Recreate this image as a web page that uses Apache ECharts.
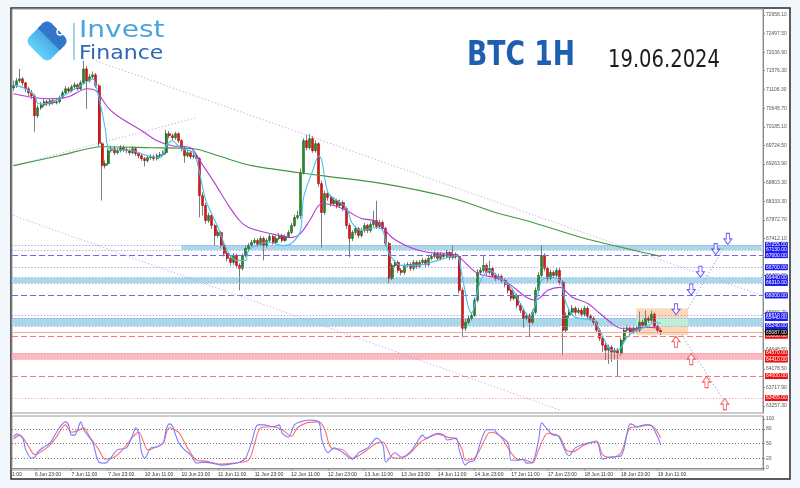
<!DOCTYPE html>
<html><head><meta charset="utf-8">
<script src="https://cdn.jsdelivr.net/npm/echarts@6/dist/echarts.min.js"></script>
<style>html,body{margin:0;padding:0;background:#f2f7fb;}#c{width:800px;height:488px;}</style>
</head><body><div id="c"></div>
<script>
// ---------- categories (hourly bars, weekends skipped) ----------
const sessions = [['6 Jun',16,23],['7 Jun',0,23],['10 Jun',0,23],['11 Jun',0,23],['12 Jun',0,23],['13 Jun',0,23],['14 Jun',0,23],['17 Jun',0,23],['18 Jun',0,23],['19 Jun',0,23],['20 Jun',0,21]];
const xTickLabels = ['6 Jun 23:00','7 Jun 11:00','7 Jun 23:00','10 Jun 11:00','10 Jun 23:00','11 Jun 11:00','11 Jun 23:00','12 Jun 11:00','12 Jun 23:00','13 Jun 11:00','13 Jun 23:00','14 Jun 11:00','14 Jun 23:00','17 Jun 11:00','17 Jun 23:00','18 Jun 11:00','18 Jun 23:00','19 Jun 11:00'];
const priceTicks = [72958.10,72497.50,72036.90,71576.30,71106.30,70645.70,70185.10,69724.50,69263.90,68803.30,68333.30,67872.70,67412.10,66951.50,66490.90,66030.30,65569.70,65109.10,64648.50,64178.50,63717.90,63257.30];
const stochTicks = [0,20,50,80,100];
const stochLevels = [80,50,20];

// ---------- candles ----------
const firstOpen = 71150;
const closes = [
71201,71325,71374,71275,71127,71028,70953,70458,70656,70730,
70805,70755,70830,70780,70805,70904,71028,71127,71077,71176,
71225,71127,71275,71621,71325,71424,71473,71201,69765,69221,
69270,69592,69641,69542,69592,69666,69617,69592,69542,69641,
69518,69468,69394,69345,69419,69444,69394,69468,69493,69542,
70013,69963,69914,70013,69840,69641,69468,69542,69444,69468,
69394,68478,68231,67860,67983,67736,67488,67562,67241,67043,
66919,66820,66993,66746,66672,66993,67166,67241,67315,67365,
67265,67414,67241,67365,67463,67315,67414,67488,67365,67463,
67562,67736,67934,67983,69047,69840,69666,69889,69592,69765,
68775,68057,68528,68429,68280,68355,68231,68305,68157,67736,
67414,67562,67661,67488,67612,67736,67612,67760,67860,67711,
67810,67661,67290,66424,66746,66820,66622,66572,66746,66770,
66672,66820,66721,66820,66870,66770,66919,66968,67043,66919,
67018,66968,67067,66944,67018,66968,66127,65186,65335,65434,
65508,65880,66572,66622,66746,66572,66672,66498,66424,66473,
66375,66276,66127,65929,66003,65756,65632,65434,65508,65335,
65582,66127,66498,66993,66672,66424,66572,66498,66622,66325,
65137,65508,65582,65681,65582,65632,65533,65681,65483,65434,
65335,65137,64939,64766,64642,64716,64592,64642,64568,64890,
65137,65186,65087,65186,65137,65335,65261,65434,65385,65533,
65236,65137,65087];
const highs = [
71330,71400,71620,71420,71300,71180,71100,71000,70720,70800,
70870,70860,70900,70880,70880,70960,71080,71200,71180,71230,
71290,71260,71330,71820,71700,71500,71560,71520,71250,69800,
69350,69650,69720,69700,69660,69730,69720,69680,69640,69700,
69680,69560,69520,69440,69480,69500,69490,69520,69560,69600,
70110,70080,70020,70060,70050,69880,69700,69600,69590,69530,
69520,69430,68560,68300,68050,68030,67780,67620,67600,67300,
67100,66980,67050,67040,66800,67040,67230,67300,67380,67430,
67420,67480,67460,67420,67530,67500,67480,67550,67530,67520,
67620,67800,68000,68100,69150,69900,69990,70010,69950,69850,
69800,68850,68600,68600,68500,68430,68400,68380,68360,68200,
67800,67620,67720,67700,67680,67800,67780,67830,68100,68350,
67880,67860,67700,67330,66800,66880,66870,66680,66800,66830,
66820,66880,66870,66880,66930,66920,66980,67030,67100,67080,
67080,67060,67130,67100,67240,67070,67010,66200,65420,65500,
65580,65950,66650,66700,66990,66800,66860,66720,66560,66540,
66520,66420,66320,66170,66080,66050,65800,65680,65570,65560,
65650,66200,66580,67240,67050,66720,66640,66620,66690,66680,
66380,65580,65660,65760,65730,65700,65690,65740,65730,65540,
65480,65380,65200,64990,64820,64780,64770,64700,64700,64950,
65200,65260,65230,65250,65240,65600,65400,65630,65480,65620,
65580,65280,65160];
const lows = [
71080,71150,71280,71200,71050,70950,70870,70060,70400,70600,
70680,70700,70700,70730,70740,70760,70880,70990,71020,71040,
71130,71080,71100,71250,70630,71280,71380,71150,69700,68355,
69150,69220,69540,69480,69500,69550,69560,69530,69480,69500,
69460,69400,69340,69200,69300,69370,69340,69350,69420,69450,
69500,69900,69850,69860,69780,69580,69290,69420,69380,69390,
69340,67940,67980,67780,67800,67650,67240,67430,67180,66970,
66850,66740,66760,66670,66130,66620,66940,67100,67200,67270,
67200,67220,66870,67190,67320,67260,67270,67370,67310,67320,
67420,67520,67690,67880,67900,69000,69600,69620,69540,69540,
68700,67190,68000,68350,68200,68220,68160,68170,68090,67650,
66950,67350,67500,67420,67440,67560,67550,67560,67700,67650,
67650,67600,67220,66300,66380,66690,66560,66500,66520,66690,
66610,66620,66660,66670,66770,66700,66720,66870,66920,66860,
66870,66900,66920,66880,66890,66900,66050,64960,65120,65280,
65380,65460,65830,66500,66560,66500,66520,66440,66360,66380,
66300,66200,66050,65860,65880,65680,65560,65200,65380,64990,
65280,65530,66060,66440,66600,66350,66380,66430,66440,66260,
64520,65080,65440,65520,65520,65540,65470,65480,65420,65370,
65270,65070,64870,64600,64400,64300,64350,64400,63980,64500,
64830,65080,65020,65040,65080,65090,65200,65210,65320,65330,
65180,65080,65020];

// ---------- moving averages ([bar, price]) ----------
const maFast = [[0,71225],[4,71127],[7,70953],[8,70755],[12,70780],[18,71028],[23,71250],[26,71374],[27,71201],[28,70904],[30,70161],[31,69666],[33,69617],[39,69592],[44,69468],[48,69419],[50,69716],[52,69840],[55,69641],[59,69542],[61,69023],[63,68355],[67,67686],[70,67117],[73,66870],[76,66870],[77,67117],[81,67290],[84,67315],[88,67241],[91,67290],[94,67612],[95,68429],[98,69097],[100,69468],[101,69345],[103,68553],[106,68355],[109,68181],[111,67785],[114,67612],[119,67686],[121,67612],[123,67043],[127,66746],[132,66746],[139,66870],[145,66993],[147,66449],[149,65706],[150,65558],[153,66375],[156,66622],[159,66449],[163,66201],[166,65805],[169,65459],[171,65805],[173,66375],[175,66449],[179,66375],[181,65805],[184,65459],[190,65385],[192,65137],[196,64642],[198,64642],[201,64963],[204,65137],[207,65211],[210,65335],[212,65310]];
const maSlow = [[0,71003],[7,70904],[12,70879],[18,70929],[24,71127],[27,71077],[31,70656],[35,70409],[42,70087],[47,69840],[52,69716],[58,69666],[61,69345],[66,68775],[70,68280],[74,67860],[77,67686],[84,67538],[91,67439],[94,67538],[97,67860],[101,68280],[105,68231],[109,68107],[114,67909],[118,67860],[120,67785],[124,67439],[130,67191],[136,67067],[143,67043],[146,66944],[152,66548],[159,66424],[163,66251],[168,65954],[171,65880],[175,66127],[179,66201],[183,65954],[188,65805],[192,65558],[196,65310],[199,65186],[203,65186],[207,65211],[212,65186]];
const maLong = [[0,69221],[15,69468],[29,69691],[45,69666],[59,69641],[67,69468],[78,69221],[101,68973],[121,68775],[143,68429],[159,68033],[168,67860],[186,67439],[212,66969]];

// ---------- stochastic ----------
const stochK = [[0,63],[1,69],[3,61],[4,37],[6,20],[7,22],[8,33],[10,43],[12,51],[13,61],[15,82],[17,94],[18,88],[19,67],[20,67],[21,78],[22,94],[23,78],[25,61],[26,51],[28,12],[30,10],[32,22],[34,37],[37,41],[39,67],[40,82],[41,71],[42,31],[43,20],[45,41],[47,43],[49,51],[50,78],[51,90],[52,86],[54,53],[56,37],[58,27],[60,10],[62,12],[65,10],[68,6],[71,8],[74,12],[76,20],[78,53],[80,88],[82,88],[85,84],[87,88],[88,71],[90,63],[92,88],[94,94],[97,98],[100,94],[101,57],[103,31],[105,41],[108,31],[111,18],[113,31],[116,41],[119,61],[121,47],[122,12],[125,31],[127,22],[130,33],[132,51],[134,67],[135,61],[139,71],[141,67],[142,57],[145,61],[146,37],[148,6],[149,12],[151,16],[153,53],[155,78],[157,78],[159,67],[162,51],[163,16],[165,16],[167,18],[168,10],[170,12],[172,57],[173,92],[175,78],[177,67],[178,67],[181,31],[182,25],[184,41],[188,51],[191,53],[193,18],[195,22],[199,25],[202,90],[203,88],[204,84],[207,88],[209,86],[211,63],[212,47]];
const stochD = [[0,59],[2,67],[5,43],[7,27],[9,33],[12,47],[14,63],[17,88],[19,73],[21,76],[23,82],[25,63],[28,37],[30,18],[33,22],[36,39],[39,63],[41,73],[44,37],[46,41],[49,51],[51,82],[54,73],[57,41],[60,16],[63,14],[68,8],[72,10],[77,16],[79,51],[81,82],[85,84],[88,78],[91,65],[93,82],[96,92],[100,94],[102,78],[104,41],[108,37],[111,20],[115,33],[119,51],[121,53],[124,22],[127,20],[130,31],[133,51],[135,59],[139,69],[142,63],[145,59],[147,37],[148,16],[151,20],[154,53],[156,73],[158,71],[160,61],[163,31],[165,18],[168,16],[170,10],[172,37],[175,71],[177,69],[179,63],[181,37],[183,33],[187,47],[191,55],[193,27],[196,22],[199,31],[202,82],[205,84],[208,88],[210,82],[212,61]];

// ---------- levels / zones / drawings ----------
const resistanceLevels = [67255,67130,67000,66700,66440,66310,66000,65510,65440,65240];
const supportLevels = [65000,64570,64410,64000,63455];
const resistanceZones = [[67255,67130],[66440,66310],[65440,65240]];
const resistanceZoneStart = [55,0,0];
const supportZones = [[64570,64410]];
const currentPrice = 65090;
const tradeBox = [204,221,65680,65010];
const channelLines = [[[27,71820],[245,66003]],[[0,67983],[179,63157]],[[0,69221],[60,70409]]];
const projectionLines = [[[221,65680],[234,67365]],[[219,65013],[233,63355]]];
const buyTargets = [[217,65510],[222,66000],[225,66440],[230,67000],[234,67255]];
const sellTargets = [[217,65000],[222,64570],[227,64000],[233,63455]];

// ---------- build ----------
const categories = [];
sessions.forEach(([d,h0,h1]) => { for (let h=h0; h<=h1; h++) categories.push(d+' '+String(h).padStart(2,'0')+':00'); });
const tickSet = new Set(xTickLabels);
const tickFn = (i, v) => tickSet.has(v);
const opens = [firstOpen].concat(closes.slice(0,-1));
const wickData = closes.map((c,i)=>[opens[i], c, lows[i], highs[i]]);
const bodyData = closes.map((c,i)=>[opens[i], c, Math.min(opens[i],c), Math.max(opens[i],c)]);
const pts = arr => arr.map(p => [categories[p[0]], p[1]]);
const FONT = '"Liberation Sans", Arial, sans-serif';
const NARROW = '"Liberation Sans Narrow", "DejaVu Sans Condensed", sans-serif';

const lblBase = {show:true, position:'end', distance:2, fontSize:5, fontFamily:FONT, color:'#fff', padding:[1,1,0,1], formatter: p => Number(p.value).toFixed(2)};
const levelLines = [];
resistanceLevels.forEach(v => levelLines.push({yAxis:v,
  lineStyle:{color: v%1000===0 ? '#6b6bf0' : '#9c9cf5', type: v%1000===0 ? [6,3] : [1.2,2], width:1},
  label:Object.assign({}, lblBase, {backgroundColor:'#1c1cf0'})}));
supportLevels.forEach(v => levelLines.push({yAxis:v,
  lineStyle:{color: v%1000===0 ? '#f07a7a' : '#f4a0a0', type: v%1000===0 ? [6,3] : [1.2,2], width:1},
  label:Object.assign({}, lblBase, {backgroundColor:'#ee1111'})}));
levelLines.push({yAxis:currentPrice, lineStyle:{color:'#f3a6a6', type:'solid', width:1},
  label:Object.assign({}, lblBase, {backgroundColor:'#000', formatter: () => closes[closes.length-1].toFixed(2)})});

const zones = [];
resistanceZones.forEach((z,k) => {
  if (resistanceZoneStart[k] > 0) zones.push([{yAxis:z[0], xAxis:categories[resistanceZoneStart[k]], itemStyle:{color:'#a9d9e8'}}, {yAxis:z[1], xAxis:categories[categories.length-1]}]);
  else zones.push([{yAxis:z[0], itemStyle:{color:'#a9d9e8'}}, {yAxis:z[1]}]);
});
supportZones.forEach(z => zones.push([{yAxis:z[0], itemStyle:{color:'#fbb8bf'}}, {yAxis:z[1]}]));
zones.push([{xAxis:categories[tradeBox[0]], yAxis:tradeBox[2], itemStyle:{color:'rgba(250,196,140,0.62)'}}, {xAxis:categories[tradeBox[1]], yAxis:tradeBox[3]}]);
const ov = resistanceZones[2];
zones.push([{xAxis:categories[tradeBox[0]], yAxis:ov[0], itemStyle:{color:'#bdeed8'}}, {xAxis:categories[tradeBox[1]], yAxis:ov[1]}]);

const segs = (arr, color) => arr.map(s => [{coord:[categories[s[0][0]], s[0][1]], lineStyle:{color, type:[1.2,2.2], width:1}}, {coord:[categories[s[1][0]], s[1][1]]}]);

const downArrow = 'path://M3,0 L7,0 L7,6 L10,6 L5,12 L0,6 L3,6 Z';
const upArrow = 'path://M5,0 L10,6 L7,6 L7,12 L3,12 L3,6 L0,6 Z';

const chart = echarts.init(document.getElementById('c'), null, {renderer:'canvas'});
chart.setOption({
  animation:false,
  backgroundColor:'transparent',
  graphic:[
    {type:'rect', z:-100, silent:true, shape:{x:11, y:8, width:779, height:471}, style:{fill:'#fff', stroke:'#2a2a2a', lineWidth:1.5}},
    {type:'rect', z:100, x:47, y:41, rotation:Math.PI/4, shape:{x:-15.5, y:-15.5, width:31, height:31, r:6},
      style:{fill:{type:'linear', x:0, y:0, x2:1, y2:0, colorStops:[{offset:0,color:'#62d2f8'},{offset:1,color:'#3b8fdc'}]}}},
    {type:'rect', z:101, x:47, y:41, rotation:Math.PI/4, shape:{x:2.5, y:-15.5, width:13, height:31, r:[0,6,6,0]},
      style:{fill:'#2f72c4', opacity:0.9}},
    {type:'circle', z:102, shape:{cx:60, cy:32, r:3}, style:{fill:'none', stroke:'#fff', lineWidth:1.4}},
    {type:'line', z:100, shape:{x1:74, y1:23, x2:74, y2:60}, style:{stroke:'#4aa8e0', lineWidth:1}},
    {type:'text', z:100, x:79, y:31.5, scaleX:1.22, style:{text:'Invest', fontSize:23, fontFamily:'"DejaVu Sans", sans-serif', fill:'#47a6df', verticalAlign:'middle'}},
    {type:'text', z:100, x:79, y:54, scaleX:1.16, style:{text:'Finance', fontSize:19, fontFamily:'"DejaVu Sans", sans-serif', fill:'#2d69b2', verticalAlign:'middle'}},
    {type:'text', z:100, x:467, y:56.5, scaleX:0.87, style:{text:'BTC 1H', fontSize:34, fontWeight:'bold', fontFamily:NARROW, fill:'#1f5fb0', verticalAlign:'middle'}},
    {type:'text', z:100, x:608, y:60, scaleX:0.87, style:{text:'19.06.2024', fontSize:25, fontFamily:NARROW, fill:'#1c1c1c', verticalAlign:'middle'}},
    {type:'text', z:100, x:12, y:475, style:{text:'1:00', fontSize:5, fontFamily:FONT, fill:'#333', verticalAlign:'middle'}}
  ],
  grid:[
    {left:12, right:37, top:9, bottom:75, show:true, borderColor:'#9a9a9a', borderWidth:1, backgroundColor:'transparent'},
    {left:12, right:37, top:416, bottom:18, show:true, borderColor:'#9a9a9a', borderWidth:1, backgroundColor:'transparent'}
  ],
  xAxis:[
    {type:'category', gridIndex:0, data:categories, boundaryGap:true, axisLine:{show:false}, axisTick:{show:false}, axisLabel:{show:false}, splitLine:{show:false}},
    {type:'category', gridIndex:1, data:categories, boundaryGap:true, axisLine:{show:true, lineStyle:{color:'#8a8a8a'}},
      axisTick:{show:true, interval:tickFn, alignWithLabel:true, length:2, lineStyle:{color:'#8a8a8a'}},
      axisLabel:{interval:tickFn, align:'left', fontSize:5, fontFamily:FONT, color:'#333', margin:2}, splitLine:{show:false}}
  ],
  yAxis:[
    {type:'value', gridIndex:0, position:'right', min:63084, max:73107, splitLine:{show:false},
      axisLine:{show:true, lineStyle:{color:'#8a8a8a'}},
      axisTick:{show:true, customValues:priceTicks, length:2, lineStyle:{color:'#8a8a8a'}},
      axisLabel:{customValues:priceTicks, formatter:v=>Number(v).toFixed(2), fontSize:5, fontFamily:FONT, color:'#555', margin:3}},
    {type:'value', gridIndex:1, position:'right', min:-4, max:106, splitLine:{show:false},
      axisLine:{show:true, lineStyle:{color:'#8a8a8a'}},
      axisTick:{show:true, customValues:stochTicks, length:2, lineStyle:{color:'#8a8a8a'}},
      axisLabel:{customValues:stochTicks, formatter:v=>String(v), fontSize:5, fontFamily:FONT, color:'#555', margin:3}}
  ],
  series:[
    {name:'zones', type:'line', xAxisIndex:0, yAxisIndex:0, data:[], z:1, silent:true,
      markArea:{silent:true, data:zones},
      markLine:{silent:true, symbol:['none','none'], data:levelLines}},
    {name:'drawings', type:'line', xAxisIndex:0, yAxisIndex:0, data:[], z:1, silent:true,
      markLine:{silent:true, symbol:['none','none'], label:{show:false},
        data: segs(channelLines, '#c6a2e6').concat(segs(projectionLines, '#8f8fd0'))}},
    {name:'wick', type:'candlestick', xAxisIndex:0, yAxisIndex:0, data:wickData, barWidth:1, z:3, silent:true,
      itemStyle:{color:'#7d7d7d', color0:'#7d7d7d', borderColor:'#7d7d7d', borderColor0:'#7d7d7d', borderWidth:1}},
    {name:'body', type:'candlestick', xAxisIndex:0, yAxisIndex:0, data:bodyData, barWidth:2.5, z:4, silent:true,
      itemStyle:{color:'#228a22', color0:'#e01515', borderColor:'#125412', borderColor0:'#9a0000', borderWidth:0.5}},
    {name:'MA long', type:'line', xAxisIndex:0, yAxisIndex:0, data:pts(maLong), smooth:0.3, showSymbol:false, z:5,
      lineStyle:{color:'#3c9a3c', width:1.1}},
    {name:'MA slow', type:'line', xAxisIndex:0, yAxisIndex:0, data:pts(maSlow), smooth:0.3, showSymbol:false, z:5,
      lineStyle:{color:'#b43ad8', width:1.1}},
    {name:'MA fast', type:'line', xAxisIndex:0, yAxisIndex:0, data:pts(maFast), smooth:0.3, showSymbol:false, z:6,
      lineStyle:{color:'#45c0f2', width:1.1}},
    {name:'buy', type:'scatter', xAxisIndex:0, yAxisIndex:0, data:pts(buyTargets), symbol:downArrow, symbolSize:[8,11], symbolOffset:[0,-6], z:7,
      itemStyle:{color:'#fff', borderColor:'#3b3bf5', borderWidth:1}},
    {name:'sell', type:'scatter', xAxisIndex:0, yAxisIndex:0, data:pts(sellTargets), symbol:upArrow, symbolSize:[8,11], symbolOffset:[0,6], z:7,
      itemStyle:{color:'#fff', borderColor:'#f53b3b', borderWidth:1}},
    {name:'%K', type:'line', xAxisIndex:1, yAxisIndex:1, data:pts(stochK), smooth:0.3, showSymbol:false, z:5,
      lineStyle:{color:'#7b7bff', width:1.1},
      markLine:{silent:true, symbol:['none','none'], label:{show:false}, lineStyle:{color:'#777', type:[1,2], width:1},
        data: stochLevels.map(v => ({yAxis:v}))}},
    {name:'%D', type:'line', xAxisIndex:1, yAxisIndex:1, data:pts(stochD), smooth:0.3, showSymbol:false, z:4,
      lineStyle:{color:'#ff6d6d', width:1.1}}
  ]
});
</script></body></html>
